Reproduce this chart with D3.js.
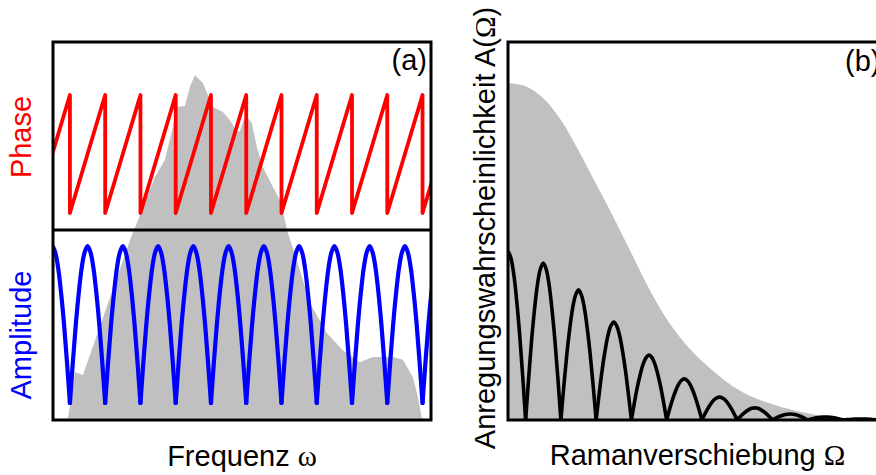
<!DOCTYPE html>
<html>
<head>
<meta charset="utf-8">
<script src="https://cdn.jsdelivr.net/npm/d3@7"></script>
<style>
  body { margin: 0; background: #fff; }
  svg { display: block; font-family: "Liberation Sans", Arial, sans-serif; }
</style>
</head>
<body>
<svg id="chart"></svg>
<script>
// ---- data ----
// panel (a): laser spectrum (grey), frequency in units of the modulation period
var specFreq = [0.943, 1.142, 1.369, 2.786, 2.900, 3.410, 3.694, 3.921, 4.035, 4.261, 4.402, 4.544,
                4.686, 4.771, 4.884, 5.054, 5.338, 5.536, 5.735, 5.820, 5.934, 6.047, 6.160, 6.302,
                6.472, 6.756, 6.954, 7.096, 7.181, 7.436, 7.805, 8.287, 8.740, 9.222, 9.591, 10.158,
                10.442, 10.725, 10.867, 10.981];
var specInt  = [0, 0.135, 0.127, 0.543, 0.569, 0.703, 0.753, 0.849, 0.907, 0.910, 0.965, 1.0,
                0.985, 0.977, 0.948, 0.907, 0.892, 0.869, 0.834, 0.837, 0.872, 0.875, 0.860, 0.790,
                0.732, 0.674, 0.636, 0.578, 0.540, 0.461, 0.336, 0.249, 0.199, 0.164, 0.179, 0.179,
                0.171, 0.121, 0.063, 0];

// phase: sawtooth, jumps from top to bottom at these frequencies
var phaseJumps = [1, 2, 3, 4, 5, 6, 7, 8, 9, 10, 11];
var phaseRange = [0, 1];

// amplitude: zeros at these frequencies, identical arches in between
var ampZeros = [0, 1, 2, 3, 4, 5, 6, 7, 8, 9, 10, 11, 12];
var archShape = [0, 0.26, 0.5, 0.7, 0.86, 0.96, 1, 0.96, 0.86, 0.7, 0.5, 0.26, 0];

// panel (b): pump envelope (grey) vs Raman shift
var ramanShift = [0, 0.5, 1, 1.5, 2, 2.5, 3, 3.5, 4, 4.5, 5, 5.5, 6, 6.5, 7, 7.5, 8, 8.5, 9, 9.5, 10, 10.75];
var envelope   = [1.0, 0.99, 0.955, 0.89, 0.80, 0.70, 0.60, 0.495, 0.39, 0.30, 0.23, 0.175,
                  0.13, 0.092, 0.065, 0.047, 0.032, 0.02, 0.011, 0.006, 0.002, 0];

// excitation probability: arch maxima
var peakShift  = [0, 1, 2, 3, 4, 5, 6, 7, 8, 9, 10];
var peakHeight = [0.50, 0.466, 0.386, 0.291, 0.193, 0.122, 0.068, 0.036, 0.018, 0.009, 0.003];

// ---- canvas ----
var width = 876, height = 475;
var svg = d3.select("#chart").attr("width", width).attr("height", height);

var boxA = { left: 53, right: 431, top: 42, mid: 230, bottom: 420 };
var boxB = { left: 508, right: 887, top: 42, bottom: 420 };

// scales
var xA = d3.scaleLinear().domain([0.52, 11.24]).range([boxA.left, boxA.right]);
var ySpec = d3.scaleLinear().domain([0, 1]).range([418.5, 75]);
var yPhase = d3.scaleLinear().domain(phaseRange).range([213, 95]);
var yAmp = d3.scaleLinear().domain([0, 1]).range([403, 246]);

var xB = d3.scaleLinear().domain([0, 10.75]).range([boxB.left, boxB.right]);
var yB = d3.scaleLinear().domain([0, 1]).range([boxB.bottom, 83]);

// clip paths
var defs = svg.append("defs");
function addClip(id, x0, y0, x1, y1) {
  defs.append("clipPath").attr("id", id)
    .append("rect").attr("x", x0).attr("y", y0).attr("width", x1 - x0).attr("height", y1 - y0);
}
addClip("clipA", boxA.left, boxA.top, boxA.right, boxA.bottom);
addClip("clipPhase", boxA.left, boxA.top, boxA.right, boxA.mid);
addClip("clipAmp", boxA.left, boxA.mid, boxA.right, boxA.bottom);
addClip("clipB", boxB.left, boxB.top, boxB.right, boxB.bottom);

// ---- panel (a) ----
var spec = specFreq.map(function(f, i) { return { f: f, v: specInt[i] }; });
svg.append("path")
  .attr("clip-path", "url(#clipA)")
  .attr("fill", "#c0c0c0")
  .attr("d", d3.area()
    .x(function(d) { return xA(d.f); })
    .y0(ySpec(0))
    .y1(function(d) { return ySpec(d.v); })(spec));

// phase sawtooth
var saw = [{ f: phaseJumps[0] - 1, p: phaseRange[0] }];
phaseJumps.forEach(function(j) {
  saw.push({ f: j, p: phaseRange[1] });
  saw.push({ f: j, p: phaseRange[0] });
});
saw.push({ f: phaseJumps[phaseJumps.length - 1] + 1, p: phaseRange[1] });

svg.append("path")
  .attr("clip-path", "url(#clipPhase)")
  .attr("fill", "none")
  .attr("stroke", "#ff0000")
  .attr("stroke-width", 3.8)
  .attr("stroke-linejoin", "round")
  .attr("d", d3.line()
    .x(function(d) { return xA(d.f); })
    .y(function(d) { return yPhase(d.p); })(saw));

// amplitude arches
var archLine = d3.line().curve(d3.curveCatmullRom);
var gAmp = svg.append("g").attr("clip-path", "url(#clipAmp)");
d3.pairs(ampZeros).forEach(function(pr) {
  var pts = archShape.map(function(v, i) {
    var f = pr[0] + (pr[1] - pr[0]) * i / (archShape.length - 1);
    return [xA(f), yAmp(v)];
  });
  gAmp.append("path")
    .attr("fill", "none")
    .attr("stroke", "#0000ff")
    .attr("stroke-width", 4.2)
    .attr("stroke-linecap", "round")
    .attr("d", archLine(pts));
});

// frames
svg.append("rect")
  .attr("x", boxA.left).attr("y", boxA.top)
  .attr("width", boxA.right - boxA.left).attr("height", boxA.bottom - boxA.top)
  .attr("fill", "none").attr("stroke", "#000").attr("stroke-width", 3);
svg.append("line")
  .attr("x1", boxA.left).attr("x2", boxA.right)
  .attr("y1", boxA.mid).attr("y2", boxA.mid)
  .attr("stroke", "#000").attr("stroke-width", 3);

// ---- panel (b) ----
var env = ramanShift.map(function(s, i) { return { s: s, v: envelope[i] }; });
svg.append("path")
  .attr("clip-path", "url(#clipB)")
  .attr("fill", "#c0c0c0")
  .attr("d", d3.area()
    .curve(d3.curveCatmullRom)
    .x(function(d) { return xB(d.s); })
    .y0(yB(0))
    .y1(function(d) { return yB(d.v); })(env));

var gB = svg.append("g").attr("clip-path", "url(#clipB)");
peakShift.forEach(function(s, k) {
  var pts = archShape.map(function(v, i) {
    var x = s - 0.5 + i / (archShape.length - 1);
    return [xB(x), yB(v * peakHeight[k])];
  });
  gB.append("path")
    .attr("fill", "none")
    .attr("stroke", "#000")
    .attr("stroke-width", 3.6)
    .attr("stroke-linecap", "round")
    .attr("d", archLine(pts));
});

svg.append("rect")
  .attr("x", boxB.left).attr("y", boxB.top)
  .attr("width", boxB.right - boxB.left).attr("height", boxB.bottom - boxB.top)
  .attr("fill", "none").attr("stroke", "#000").attr("stroke-width", 3);

// ---- labels ----
var fs = 29;
svg.append("text")
  .attr("transform", "translate(31,137) rotate(-90)")
  .attr("text-anchor", "middle").attr("fill", "#ff0000").style("font-size", fs + "px")
  .text("Phase");
svg.append("text")
  .attr("transform", "translate(31,335) rotate(-90)")
  .attr("text-anchor", "middle").attr("fill", "#0000ff").style("font-size", fs + "px")
  .text("Amplitude");

var xl = svg.append("text")
  .attr("x", (boxA.left + boxA.right) / 2).attr("y", 466)
  .attr("text-anchor", "middle").style("font-size", fs + "px");
xl.append("tspan").text("Frequenz ");
xl.append("tspan").style("font-family", "'Liberation Serif', serif").text("ω");

var xl2 = svg.append("text")
  .attr("x", (boxB.left + boxB.right) / 2).attr("y", 465)
  .attr("text-anchor", "middle").style("font-size", fs + "px");
xl2.append("tspan").text("Ramanverschiebung ");
xl2.append("tspan").style("font-family", "'Liberation Serif', serif").text("Ω");

var yl = svg.append("text")
  .attr("transform", "translate(495,228) rotate(-90)")
  .attr("text-anchor", "middle").style("font-size", fs + "px");
yl.append("tspan").text("Anregungswahrscheinlichkeit A(");
yl.append("tspan").style("font-family", "'Liberation Serif', serif").text("Ω");
yl.append("tspan").text(")");

svg.append("text")
  .attr("x", 427).attr("y", 70).attr("text-anchor", "end").style("font-size", fs + "px")
  .text("(a)");
svg.append("text")
  .attr("x", 845).attr("y", 71).attr("text-anchor", "start").style("font-size", fs + "px")
  .text("(b)");
</script>
</body>
</html>
